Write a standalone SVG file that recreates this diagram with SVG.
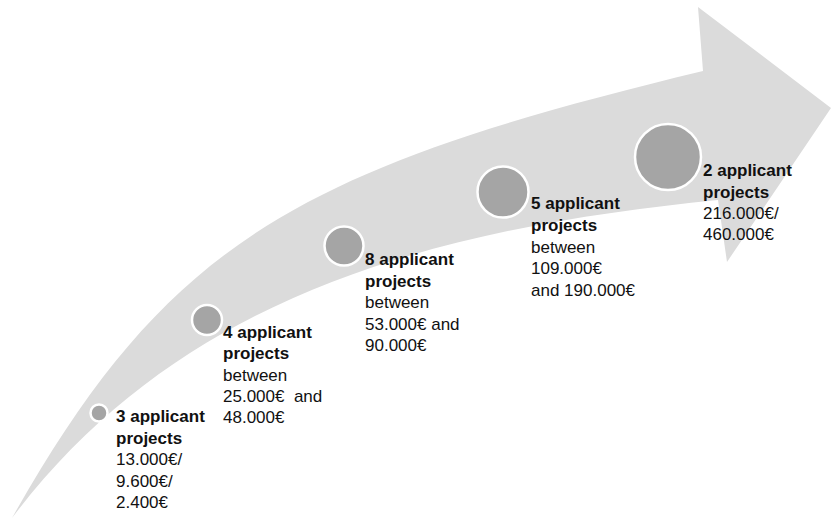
<svg xmlns="http://www.w3.org/2000/svg" width="831" height="520" viewBox="0 0 831 520">
<style>
.dot{fill:#a5a5a5;stroke:#ffffff;stroke-width:2.5}
text{font-family:"Liberation Sans",Arial,sans-serif;font-size:17px;fill:#111111}
.b{font-weight:bold}
</style>
<rect width="831" height="520" fill="#ffffff"/>
<g id="arrow">
<path d="M 12,518 C 168,242 297,169 703,71 L 698,7 L 831,108 L 727,262 L 718,200 C 438,228 182,293 12,518 Z" fill="#dbdbdb"/>
</g>
<g id="connectors"></g>
<g id="node3">
<circle class="dot" cx="99" cy="413" r="8.5"/>
<text x="116" y="422"><tspan class="b">3 applicant</tspan><tspan class="b" x="116" y="444">projects</tspan><tspan x="116" y="465">13.000€/</tspan><tspan x="116" y="486.5">9.600€/</tspan><tspan x="116" y="508">2.400€</tspan></text>
</g>
<g id="node4">
<circle class="dot" cx="207" cy="320" r="15"/>
<text x="223" y="338" xml:space="preserve"><tspan class="b">4 applicant</tspan><tspan class="b" x="223" y="359">projects</tspan><tspan x="223" y="380.5">between</tspan><tspan x="223" y="402">25.000€  and</tspan><tspan x="223" y="423">48.000€</tspan></text>
</g>
<g id="node8">
<circle class="dot" cx="344" cy="246" r="19.5"/>
<text x="365" y="265"><tspan class="b">8 applicant</tspan><tspan class="b" x="365" y="286.5">projects</tspan><tspan x="365" y="308">between</tspan><tspan x="365" y="329.5">53.000€ and</tspan><tspan x="365" y="351">90.000€</tspan></text>
</g>
<g id="node5">
<circle class="dot" cx="503" cy="192" r="25.5"/>
<text x="531" y="209"><tspan class="b">5 applicant</tspan><tspan class="b" x="531" y="231">projects</tspan><tspan x="531" y="252.5">between</tspan><tspan x="531" y="274">109.000€</tspan><tspan x="531" y="296">and 190.000€</tspan></text>
</g>
<g id="node2">
<circle class="dot" cx="668" cy="157" r="33"/>
<text x="703" y="176"><tspan class="b">2 applicant</tspan><tspan class="b" x="703" y="197.5">projects</tspan><tspan x="703" y="219">216.000€/</tspan><tspan x="703" y="240">460.000€</tspan></text>
</g>
</svg>
